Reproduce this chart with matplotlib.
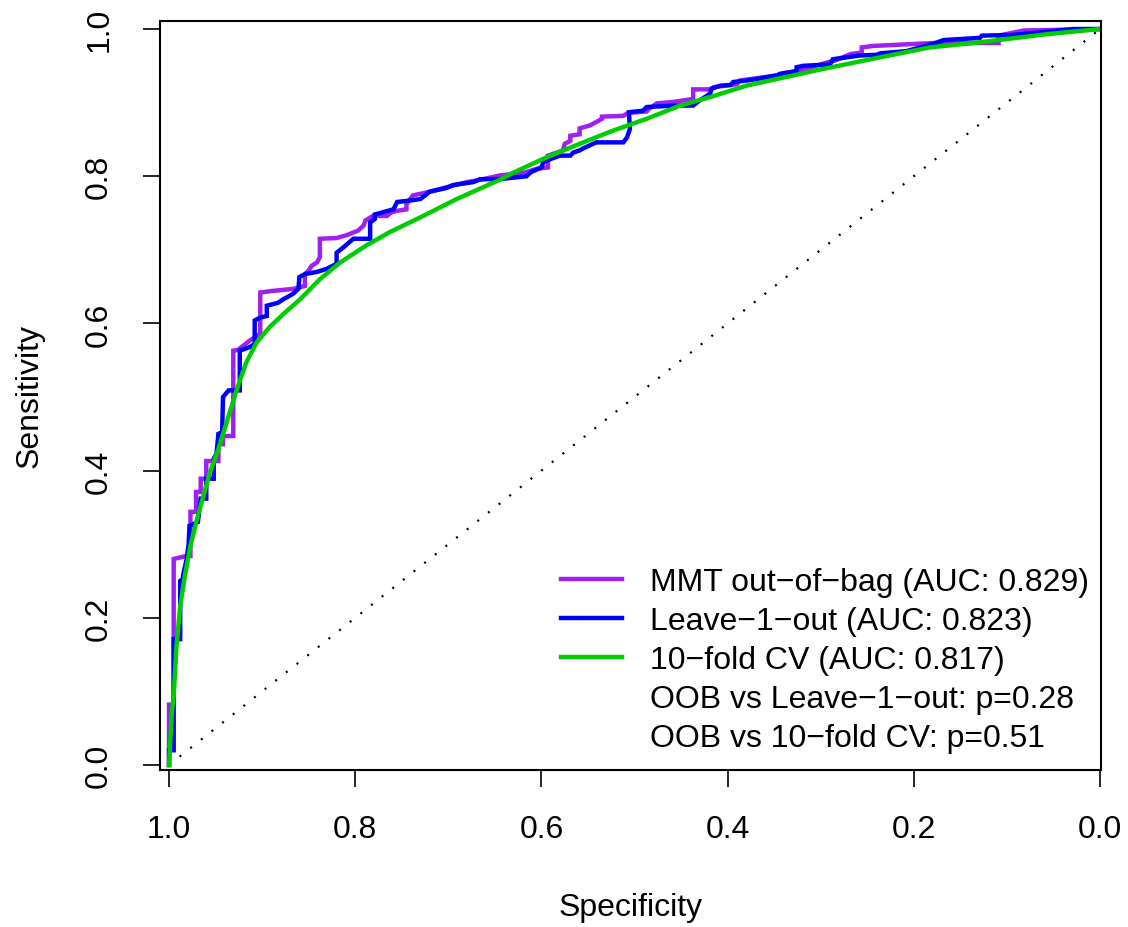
import matplotlib
matplotlib.use("Agg")
import matplotlib.pyplot as plt
from matplotlib.lines import Line2D

plt.rcParams['font.family'] = ['Liberation Sans', 'DejaVu Sans']

# MMT out-of-bag ROC (specificity, sensitivity)
oob_spec = [1.000, 1.000, 0.995, 0.995, 0.981, 0.977, 0.977, 0.971, 0.971, 0.966, 0.966,
            0.960, 0.960, 0.952, 0.947, 0.947, 0.942, 0.942, 0.931, 0.931, 0.926, 0.920,
            0.913, 0.902, 0.902, 0.890, 0.866, 0.854, 0.854, 0.850, 0.847, 0.841, 0.838,
            0.838, 0.820, 0.809, 0.797, 0.791, 0.789, 0.781, 0.766, 0.761, 0.755, 0.745,
            0.745, 0.738, 0.723, 0.702, 0.680, 0.666, 0.645, 0.618, 0.605, 0.593, 0.593,
            0.577, 0.575, 0.569, 0.569, 0.559, 0.559, 0.548, 0.542, 0.535, 0.535, 0.512,
            0.507, 0.487, 0.485, 0.476, 0.458, 0.437, 0.437, 0.419, 0.415, 0.390, 0.387,
            0.347, 0.340, 0.326, 0.292, 0.285, 0.268, 0.256, 0.256, 0.244, 0.179, 0.109,
            0.109, 0.082, 0.000]
oob_sens = [0.000, 0.082, 0.082, 0.280, 0.284, 0.284, 0.344, 0.344, 0.371, 0.371, 0.389,
            0.389, 0.413, 0.413, 0.413, 0.436, 0.436, 0.447, 0.447, 0.563, 0.564, 0.570,
            0.577, 0.586, 0.642, 0.644, 0.647, 0.651, 0.667, 0.672, 0.678, 0.683, 0.690,
            0.715, 0.716, 0.720, 0.726, 0.733, 0.740, 0.746, 0.746, 0.751, 0.753, 0.755,
            0.762, 0.774, 0.778, 0.785, 0.792, 0.795, 0.801, 0.805, 0.810, 0.812, 0.828,
            0.835, 0.844, 0.848, 0.855, 0.857, 0.865, 0.869, 0.873, 0.878, 0.881, 0.882,
            0.886, 0.888, 0.891, 0.899, 0.901, 0.905, 0.918, 0.918, 0.921, 0.925, 0.930,
            0.937, 0.940, 0.942, 0.955, 0.957, 0.966, 0.968, 0.975, 0.977, 0.981, 0.981,
            0.991, 0.998, 1.000]

# Leave-1-out ROC
loo_spec = [1.000, 1.000, 0.995, 0.995, 0.988, 0.988, 0.985, 0.985, 0.981, 0.979, 0.978,
            0.969, 0.966, 0.960, 0.960, 0.952, 0.952, 0.949, 0.947, 0.943, 0.942, 0.936,
            0.924, 0.924, 0.913, 0.908, 0.908, 0.902, 0.895, 0.895, 0.883, 0.877, 0.867,
            0.861, 0.860, 0.854, 0.841, 0.831, 0.820, 0.820, 0.813, 0.802, 0.784, 0.784,
            0.779, 0.779, 0.759, 0.755, 0.741, 0.730, 0.720, 0.702, 0.695, 0.673, 0.666,
            0.645, 0.616, 0.612, 0.600, 0.598, 0.591, 0.580, 0.569, 0.566, 0.559, 0.555,
            0.541, 0.512, 0.508, 0.505, 0.506, 0.491, 0.487, 0.455, 0.437, 0.430, 0.419,
            0.417, 0.408, 0.397, 0.394, 0.380, 0.369, 0.347, 0.344, 0.326, 0.326, 0.319,
            0.290, 0.287, 0.258, 0.240, 0.236, 0.208, 0.193, 0.179, 0.168, 0.129, 0.127,
            0.093, 0.029, 0.000]
loo_sens = [0.000, 0.020, 0.020, 0.171, 0.171, 0.250, 0.253, 0.257, 0.280, 0.300, 0.325,
            0.330, 0.362, 0.362, 0.389, 0.389, 0.416, 0.423, 0.450, 0.452, 0.500, 0.509,
            0.509, 0.563, 0.568, 0.572, 0.604, 0.608, 0.610, 0.624, 0.628, 0.633, 0.640,
            0.647, 0.663, 0.667, 0.670, 0.674, 0.681, 0.696, 0.703, 0.715, 0.715, 0.737,
            0.742, 0.748, 0.755, 0.765, 0.767, 0.769, 0.779, 0.784, 0.788, 0.792, 0.796,
            0.796, 0.800, 0.805, 0.812, 0.819, 0.823, 0.828, 0.828, 0.832, 0.835, 0.838,
            0.846, 0.846, 0.853, 0.864, 0.887, 0.889, 0.894, 0.896, 0.896, 0.903, 0.912,
            0.919, 0.923, 0.924, 0.928, 0.930, 0.932, 0.937, 0.939, 0.943, 0.948, 0.950,
            0.952, 0.959, 0.964, 0.965, 0.967, 0.970, 0.975, 0.980, 0.985, 0.988, 0.991,
            0.992, 1.000, 1.000]

# 10-fold CV ROC (smooth)
cv_spec = [1.000, 0.997, 0.995, 0.992, 0.988, 0.983, 0.977, 0.970, 0.963, 0.958, 0.956,
           0.947, 0.938, 0.927, 0.917, 0.906, 0.892, 0.877, 0.859, 0.838, 0.816, 0.788,
           0.763, 0.727, 0.691, 0.645, 0.630, 0.594, 0.559, 0.523, 0.487, 0.451, 0.415,
           0.380, 0.322, 0.308, 0.254, 0.183, 0.129, 0.057, 0.000]
cv_sens = [0.000, 0.072, 0.094, 0.162, 0.216, 0.257, 0.298, 0.334, 0.366, 0.389, 0.398,
           0.429, 0.466, 0.511, 0.547, 0.574, 0.595, 0.613, 0.633, 0.660, 0.683, 0.706,
           0.724, 0.746, 0.769, 0.795, 0.805, 0.826, 0.844, 0.862, 0.878, 0.896, 0.909,
           0.923, 0.939, 0.943, 0.957, 0.975, 0.982, 0.993, 1.000]

labels = ['MMT out\u2212of\u2212bag (AUC: 0.829)',
          'Leave\u22121\u2212out (AUC: 0.823)',
          '10\u2212fold CV (AUC: 0.817)',
          'OOB vs Leave\u22121\u2212out: p=0.28',
          'OOB vs 10\u2212fold CV: p=0.51']
colors = ['#A020F0', '#0000FF', '#00CD00']
ticks = [1.0, 0.8, 0.6, 0.4, 0.2, 0.0]

fs = 23
lw = 3.2
fig = plt.figure(figsize=(11.28, 9.28), dpi=100)
ax = fig.add_axes([160 / 1128, 1 - 771 / 928, 941 / 1128, 749 / 928])

ax.plot([1, 0], [0, 1], color='black', lw=1.6, linestyle=(0, (0.9, 5.2)))
ax.plot(oob_spec, oob_sens, color=colors[0], lw=lw, solid_joinstyle='miter')
ax.plot(loo_spec, loo_sens, color=colors[1], lw=lw, solid_joinstyle='miter')
ax.plot(cv_spec, cv_sens, color=colors[2], lw=lw)

ax.set_xlim(1.0097, -0.001)
ax.set_ylim(-0.0068, 1.0109)
ax.set_xticks(ticks)
ax.set_xticklabels(['%.1f' % t for t in ticks])
ax.set_yticks(ticks)
ax.set_yticklabels(['%.1f' % t for t in ticks], rotation=90, va='center')
ax.tick_params(axis='both', length=12, width=1.2, labelsize=fs, direction='out')
ax.tick_params(axis='x', pad=20)
ax.tick_params(axis='y', pad=21)
for s in ax.spines.values():
    s.set_linewidth(1.5)

ax.set_xlabel('Specificity', fontsize=fs, va='center')
ax.set_ylabel('Sensitivity', fontsize=fs, va='center')
ax.xaxis.set_label_coords(0.5, (771 - 908) / 749)
ax.yaxis.set_label_coords((30 - 160) / 941, 0.5)

handles = [Line2D([], [], color=c, lw=lw) for c in colors]
handles += [Line2D([], [], color='none', lw=lw) for _ in range(2)]
ax.legend(handles, labels, loc='upper left', bbox_to_anchor=((561 - 160) / 941, (771 - 568) / 749),
          frameon=False, fontsize=fs, handlelength=1.9, handletextpad=0.9,
          labelspacing=0.28, borderpad=0, borderaxespad=0)

fig.savefig('out.png', dpi=100)
